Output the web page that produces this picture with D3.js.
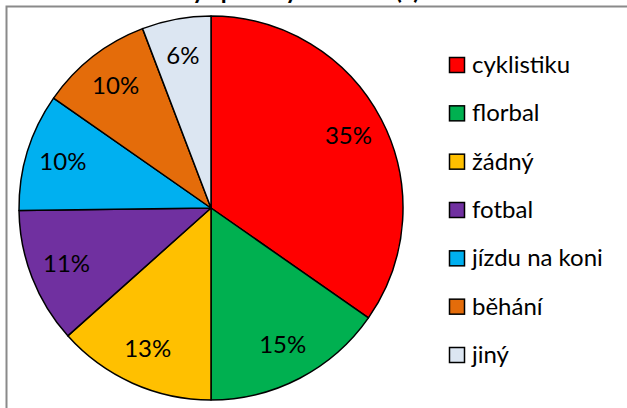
<!DOCTYPE html>
<html>
<head>
<meta charset="utf-8">
<script src="https://cdn.jsdelivr.net/npm/d3@7"></script>
<style>
    body { margin: 0; background: #fff; }
    text { font-family: Lato, "Open Sans", sans-serif; }
</style>
</head>
<body>
<div id="chart"></div>
<script>
// data (share of answers, %)
var categories = ["cyklistiku", "florbal", "žádný", "fotbal", "jízdu na koni", "běhání", "jiný"];
var shares = [34.7, 15.3, 13.4, 11.4, 9.9, 9.5, 5.8];
var colors = ["#ff0000", "#00b050", "#ffc000", "#7030a0", "#00b0f0", "#e46c0a", "#dce6f2"];
var title = "Jaký sport by ses chtěl(a) naučit?";

var width = 627, height = 408;
var cx = 211, cy = 208, radius = 192;

var svg = d3.select("#chart")
    .append("svg")
    .attr("width", width)
    .attr("height", height);

// chart frame (only top and left edges are inside the crop)
svg.append("rect")
    .attr("x", 6.5)
    .attr("y", 6.5)
    .attr("width", width + 20)
    .attr("height", height + 20)
    .attr("fill", "none")
    .attr("stroke", "#8a8a8a")
    .attr("stroke-width", 2);

// title, mostly cut off above the frame
svg.append("text")
    .attr("x", 330)
    .attr("y", -1)
    .attr("text-anchor", "middle")
    .attr("font-weight", "bold")
    .attr("font-size", 24)
    .text(title);

var data = categories.map(function (c, i) {
    return {name: c, value: shares[i], color: colors[i]};
});

var pie = d3.pie()
    .sort(null)
    .value(function (d) { return d.value; });

var arc = d3.arc()
    .innerRadius(0)
    .outerRadius(radius);

var labelArc = d3.arc()
    .innerRadius(155)
    .outerRadius(155);

var g = svg.append("g")
    .attr("transform", "translate(" + cx + "," + cy + ")");

var arcs = pie(data);

g.selectAll(".slice")
    .data(arcs)
    .enter().append("path")
    .attr("class", "slice")
    .attr("d", arc)
    .attr("fill", function (d) { return d.data.color; })
    .attr("stroke", "#000")
    .attr("stroke-width", 1.5)
    .attr("stroke-linejoin", "round");

var pct = d3.format(".0f");

g.selectAll(".label")
    .data(arcs)
    .enter().append("text")
    .attr("class", "label")
    .attr("transform", function (d) {
        var c = labelArc.centroid(d);
        return "translate(" + c[0] + "," + (c[1] + 8) + ")";
    })
    .attr("text-anchor", "middle")
    .attr("font-size", 24)
    .attr("fill", "#000")
    .text(function (d) { return pct(d.data.value) + "%"; });

// legend
var legendY = d3.scalePoint()
    .domain(categories)
    .range([65, 355]);

var legend = svg.selectAll(".legend")
    .data(data)
    .enter().append("g")
    .attr("class", "legend")
    .attr("transform", function (d) { return "translate(449," + legendY(d.name) + ")"; });

legend.append("rect")
    .attr("x", 0.5)
    .attr("y", -7.5)
    .attr("width", 15)
    .attr("height", 15)
    .attr("fill", function (d) { return d.color; })
    .attr("stroke", "#000")
    .attr("stroke-width", 1.5);

legend.append("text")
    .attr("x", 23)
    .attr("y", 8)
    .attr("font-size", 24)
    .attr("fill", "#000")
    .text(function (d) { return d.name; });
</script>
</body>
</html>
